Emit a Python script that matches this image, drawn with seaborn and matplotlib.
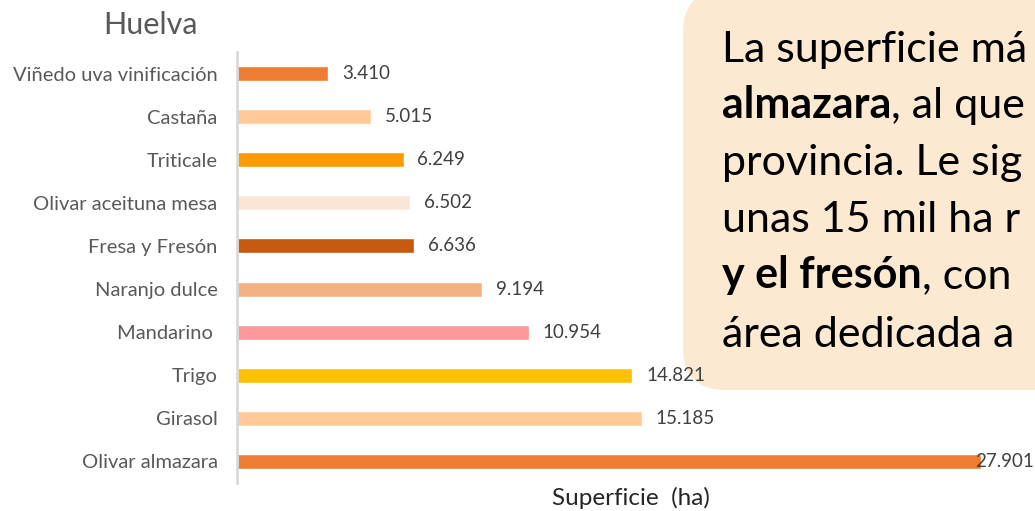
import matplotlib
matplotlib.use("Agg")
import matplotlib.pyplot as plt
import seaborn as sns
from matplotlib.patches import FancyBboxPatch

# ---- data ----
cultivos = ["Viñedo uva vinificación", "Castaña", "Triticale", "Olivar aceituna mesa",
            "Fresa y Fresón", "Naranjo dulce", "Mandarino ", "Trigo", "Girasol",
            "Olivar almazara"]
superficie = [3410, 5015, 6249, 6502, 6636, 9194, 10954, 14821, 15185, 27901]
colores = ["#ED7D31", "#FFCA96", "#FF9A00", "#FBE5D6", "#C55A11",
           "#F4B183", "#FF9999", "#FFC000", "#FFCA96", "#ED7D31"]

# visible part of the comment box (cut by the slide edge)
texto_lineas = [
    [("La superficie má", "normal")],
    [("almazara", "bold"), (", al que", "normal")],
    [("provincia. Le sig", "normal")],
    [("unas 15 mil ha r", "normal")],
    [("y el fresón", "bold"), (", con", "normal")],
    [("área dedicada a", "normal")],
]

sns.set_style("white")
plt.rcParams["font.family"] = ["Lato", "DejaVu Sans"]

fig = plt.figure(figsize=(10.35, 5.11), dpi=100)

# comment box lives in a full-figure axes behind the chart
ov = fig.add_axes([0, 0, 1, 1], zorder=0)
ov.set_xlim(0, 1035)
ov.set_ylim(511, 0)
ov.axis("off")
ov.add_patch(FancyBboxPatch((683, -10), 500, 400, boxstyle="round,pad=0,rounding_size=42",
                            facecolor="#FCE9D2", edgecolor="none"))
baselines = [62, 118, 175, 232, 288, 347]
for yb, partes in zip(baselines, texto_lineas):
    prev = None
    for txt, w in partes:
        if prev is None:
            prev = ov.text(722, yb, txt, fontsize=31, fontweight=w, color="black",
                           va="baseline", ha="left")
        else:
            prev = ov.annotate(txt, xy=(1, 0), xycoords=prev, va="bottom", ha="left",
                               fontsize=31, fontweight=w, color="black")

ax = fig.add_axes([237 / 1035, 28 / 511, 787 / 1035, 431 / 511], zorder=1)
ax.patch.set_alpha(0)

sns.barplot(x=superficie, y=cultivos, hue=cultivos, palette=colores, width=0.35,
            orient="h", legend=False, saturation=1, ax=ax)
ax.set_xlim(0, 29520)
ax.set_ylim(9.5, -0.5)

for i, v in enumerate(superficie):
    off = -4 if v == max(superficie) else 10
    ax.annotate(f"{v:,}".replace(",", "."), xy=(v, i), xytext=(off, 0),
                textcoords="offset points", va="center", ha="left",
                fontsize=13.5, color="#404040")

sns.despine(ax=ax, bottom=True)
ax.spines["left"].set_color("#D9D9D9")
ax.spines["left"].set_linewidth(2)
ax.set_xticks([])
ax.tick_params(axis="y", length=0, pad=14, labelsize=14.5, labelcolor="#595959")
ax.set_ylabel("")
ax.set_xlabel("Superficie  (ha)", fontsize=17.5, color="#262626", labelpad=3)

fig.text(150 / 1035, 1 - 25 / 511, "Huelva", ha="center", va="center",
         fontsize=22, color="#595959")

fig.savefig("out.png", dpi=100)
